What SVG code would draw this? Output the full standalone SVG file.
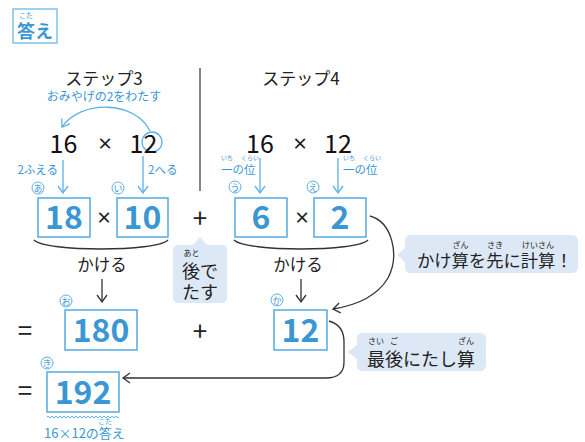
<svg xmlns="http://www.w3.org/2000/svg" width="585" height="442" viewBox="0 0 585 442">
<style>
text{font-family:"Noto Sans CJK JP","Noto Sans",sans-serif;}
.dk{fill:#222}
.bl{fill:#3b96d4}
.num{font-size:32px;font-weight:bold;fill:#3b96d4;text-anchor:middle}
.big{font-size:25px;fill:#111;text-anchor:middle}
.op{font-size:26px;fill:#222;text-anchor:middle}
text.x{font-family:"Noto Sans",sans-serif;font-size:24px;fill:#222;text-anchor:middle}
.box{fill:#fff;stroke:#5db0e4;stroke-width:1.6}
.call{fill:#dce8f6}
.rb{font-size:7.5px;text-anchor:middle}
.lbl circle{fill:#fff;stroke:#5db0e4;stroke-width:1}
.lbl text{font-size:9px;fill:#3b96d4;text-anchor:middle}
.cb{fill:none;stroke:#5db0e4;stroke-width:1.3}
.cd{fill:none;stroke:#333;stroke-width:1.3}
.mid{text-anchor:middle}
</style>
<defs>
<marker id="ab" viewBox="0 0 10 12" refX="8" refY="6" markerWidth="10" markerHeight="12" markerUnits="userSpaceOnUse" orient="auto"><path d="M1,1 L8,6 L1,11" fill="none" stroke="#5db0e4" stroke-width="1.3"/></marker>
<marker id="ad" viewBox="0 0 10 12" refX="8" refY="6" markerWidth="10" markerHeight="12" markerUnits="userSpaceOnUse" orient="auto"><path d="M1,1 L8,6 L1,11" fill="none" stroke="#333" stroke-width="1.3"/></marker>
</defs>

<g id="title">
<rect x="13" y="9" width="44" height="34" fill="#fff" stroke="#7cc4ea" stroke-width="1.5"/>
<text x="26" y="18" class="rb bl" style="font-size:7px">こた</text>
<text x="35" y="38" class="mid bl" style="font-size:18px;font-weight:bold">答え</text>
</g>

<g id="connectors">
<path d="M200,68 L200,191" stroke="#444" stroke-width="1.3"/>
<path class="cb" d="M150,131 C135,100 80,100 62,127" marker-end="url(#ab)"/>
<circle cx="152" cy="142" r="10" class="cb"/>
<path class="cb" d="M63,160 L63,193" marker-end="url(#ab)"/>
<path class="cb" d="M143,156 L143,193" marker-end="url(#ab)"/>
<path class="cb" d="M260,158 L260,193" marker-end="url(#ab)"/>
<path class="cb" d="M338,158 L338,193" marker-end="url(#ab)"/>
<path class="cd" d="M34,240 C45,252 157,252 168,240"/>
<path class="cd" d="M234,240 C245,252 357,252 368,240"/>
<path class="cd" d="M102,279 L102,302" marker-end="url(#ad)"/>
<path class="cd" d="M301,279 L301,302" marker-end="url(#ad)"/>
<path class="cd" d="M370,216 C392,222 400,255 388,278 C376,298 352,306 333,309" marker-end="url(#ad)"/>
<path class="cd" d="M329,321 C340,324 344,332 344,342 L344,362 C344,372 338,378 326,378 L123,378" marker-end="url(#ad)"/>
<path d="M47,417 q1,-1.6 2,0 t2,0 t2,0 t2,0 t2,0 t2,0 t2,0 t2,0 t2,0 t2,0 t2,0 t2,0 t2,0 t2,0 t2,0 t2,0 t2,0 t2,0 t2,0 t2,0 t2,0 t2,0 t2,0 t2,0 t2,0 t2,0 t2,0 t2,0 t2,0 t2,0 t2,0 t2,0 t2,0 t2,0 t2,0 t2,0" fill="none" stroke="#5db0e4" stroke-width="1"/>
</g>

<g id="step3">
<text x="104" y="85" class="mid dk" style="font-size:17px">ステップ3</text>
<text x="104" y="101" class="mid bl" style="font-size:12px">おみやげの2をわたす</text>
<text x="63.5" y="153" class="big">16</text>
<text x="105" y="152" class="x">×</text>
<text x="143.5" y="153" class="big">12</text>
<text x="58" y="174" class="bl" style="font-size:11.5px;text-anchor:end">2ふえる</text>
<text x="148" y="174" class="bl" style="font-size:11.5px">2へる</text>
</g>

<g id="step4">
<text x="301" y="85" class="mid dk" style="font-size:17px">ステップ4</text>
<text x="260" y="153" class="big">16</text>
<text x="300" y="152" class="x">×</text>
<text x="338" y="153" class="big">12</text>
<text x="221" y="174" class="bl" style="font-size:11.5px">一の位</text>
<text x="227" y="159.5" class="rb bl" style="font-size:6px">いち</text>
<text x="250" y="159.5" class="rb bl" style="font-size:6px">くらい</text>
<text x="343" y="174" class="bl" style="font-size:11.5px">一の位</text>
<text x="349" y="159.5" class="rb bl" style="font-size:6px">いち</text>
<text x="372" y="159.5" class="rb bl" style="font-size:6px">くらい</text>
</g>

<g id="box18"><rect class="box" x="38" y="198" width="52" height="39"/><text class="num" x="64" y="229">18</text>
<g class="lbl"><circle cx="38" cy="188" r="6"/><text x="38" y="191.5">あ</text></g></g>
<text x="104" y="226" class="x">×</text>
<g id="box10"><rect class="box" x="117" y="198" width="51" height="39"/><text class="num" x="142.5" y="229">10</text>
<g class="lbl"><circle cx="118" cy="188" r="6"/><text x="118" y="191.5">い</text></g></g>
<text x="200" y="228" class="op">+</text>
<g id="box6"><rect class="box" x="235" y="198" width="52" height="39"/><text class="num" x="261" y="229">6</text>
<g class="lbl"><circle cx="235" cy="187" r="6"/><text x="235" y="190.5">う</text></g></g>
<text x="302" y="226" class="x">×</text>
<g id="box2"><rect class="box" x="314" y="198" width="52" height="39"/><text class="num" x="340" y="229">2</text>
<g class="lbl"><circle cx="313" cy="187" r="6"/><text x="313" y="190.5">え</text></g></g>

<g id="kakeru1"><text x="102" y="271" class="mid dk" style="font-size:16.5px">かける</text></g>
<g id="kakeru2"><text x="298" y="271" class="mid dk" style="font-size:16.5px">かける</text></g>

<g id="callout-ato">
<path class="call" d="M178,245 L193,245 L200,237 L207,245 L222,245 Q227,245 227,250 L227,298 Q227,303 222,303 L178,303 Q173,303 173,298 L173,250 Q173,245 178,245 Z"/>
<text x="191.5" y="256" class="rb dk" style="font-size:8px">あと</text>
<text x="200" y="278" class="mid dk" style="font-size:18px">後で</text>
<text x="200" y="299" class="mid dk" style="font-size:18px">たす</text>
</g>

<g id="callout-saki">
<path class="call" d="M411,235 L572,235 Q578,235 578,241 L578,267 Q578,273 572,273 L411,273 Q405,273 405,267 L405,262 L397,255 L405,248 L405,241 Q405,235 411,235 Z"/>
<text x="417" y="267" class="dk" style="font-size:17.3px">かけ算を先に計算！</text>
<text x="460.5" y="248" class="rb dk" style="font-size:8px">ざん</text>
<text x="495" y="248" class="rb dk" style="font-size:8px">さき</text>
<text x="538" y="248" class="rb dk" style="font-size:8px">けいさん</text>
</g>

<g id="row2">
<text x="25" y="340" class="op">=</text>
<text x="200" y="341" class="op">+</text>
</g>
<g id="box180"><rect class="box" x="65" y="310" width="72" height="40"/><text class="num" x="101" y="342">180</text>
<g class="lbl"><circle cx="66" cy="301" r="6"/><text x="66" y="304.5">お</text></g></g>
<g id="box12"><rect class="box" x="274" y="310" width="53" height="40"/><text class="num" x="300.5" y="342">12</text>
<g class="lbl"><circle cx="277" cy="300" r="6"/><text x="277" y="303.5">か</text></g></g>

<g id="callout-saigo">
<path class="call" d="M363,333 L480,333 Q486,333 486,339 L486,365 Q486,371 480,371 L363,371 Q357,371 357,365 L357,359 L348,352 L357,345 L357,339 Q357,333 363,333 Z"/>
<text x="367" y="366" class="dk" style="font-size:18px">最後にたし算</text>
<text x="376" y="344" class="rb dk" style="font-size:8px">さい</text>
<text x="394" y="344" class="rb dk" style="font-size:8px">ご</text>
<text x="466" y="344" class="rb dk" style="font-size:8px">ざん</text>
</g>

<g id="row3"><text x="25" y="400" class="op">=</text></g>
<g id="box192"><rect class="box" x="47" y="372" width="72" height="40"/><text class="num" x="83" y="404">192</text>
<g class="lbl"><circle cx="47" cy="363" r="6"/><text x="47" y="366.5">き</text></g></g>

<g id="answer-note">
<text x="44" y="438" class="bl" style="font-size:13px">16×12の答え</text>
<text x="105" y="424" class="rb bl" style="font-size:7px">こた</text>
</g>
</svg>
